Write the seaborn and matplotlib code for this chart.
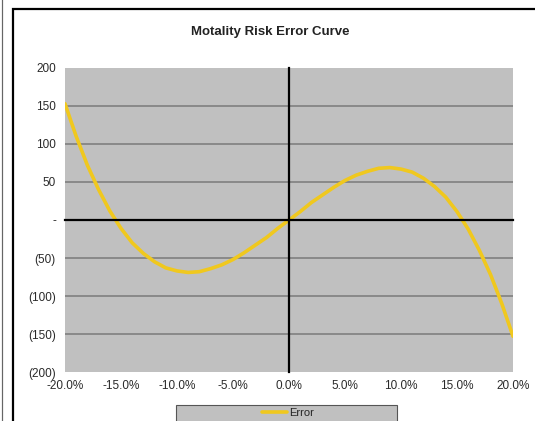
import numpy as np
import pandas as pd
import matplotlib
matplotlib.use('Agg')
import matplotlib.pyplot as plt
from matplotlib.patches import Rectangle
import seaborn as sns

# Values (x in %, error value)
x_pct = [-20, -19, -18, -17, -16, -15, -14, -13, -12, -11, -10,
         -9, -8, -7, -6, -5, -4, -3, -2, -1, 0,
         1, 2, 3, 4, 5, 6, 7, 8, 9, 10,
         11, 12, 13, 14, 15, 16, 17, 18, 19, 20]
error = [153, 110, 72, 40, 12, -11, -30, -44, -55, -63, -67,
         -69, -68, -64, -59, -52, -43, -33, -23, -11, 0,
         11, 23, 33, 43, 52, 59, 64, 68, 69, 67,
         63, 55, 44, 30, 11, -12, -40, -72, -110, -153]

x_ticks = [-20, -15, -10, -5, 0, 5, 10, 15, 20]
y_ticks = [-200, -150, -100, -50, 0, 50, 100, 150, 200]
title = 'Motality Risk Error Curve'
series_name = 'Error'

sns.set_style('white')
plt.rcParams['font.family'] = ['Liberation Sans', 'DejaVu Sans']

df = pd.DataFrame({'x': x_pct, 'Error': error})

fig = plt.figure(figsize=(5.35, 4.21), dpi=100)
ax_pos = [65 / 535, 1 - 372 / 421, 448 / 535, 304 / 421]
ax = fig.add_axes(ax_pos)
ax.set_facecolor('#c0c0c0')

# gridlines (not at the plot edges)
for v in y_ticks[1:-1]:
    if v != 0:
        ax.axhline(v, color='#7a7a7a', lw=1.1, zorder=1)

sns.lineplot(data=df, x='x', y='Error', ax=ax, color='#f0c81e', lw=2.6,
             label=series_name, zorder=5, legend=False)

ax.set_xlim(-20, 20)
ax.set_ylim(-200, 200)
ax.set_xticks(x_ticks)
ax.set_yticks(y_ticks)
ax.set_xticklabels([f'{v:.1f}%' for v in x_ticks])


def fmt_y(v):
    if v == 0:
        return '-'
    if v < 0:
        return f'({-v})'
    return f'{v}'


ax.set_yticklabels([fmt_y(v) for v in y_ticks])
ax.tick_params(axis='both', length=0, labelsize=8.5, colors='#2a2a2a')
ax.tick_params(axis='y', pad=6.5)
ax.tick_params(axis='x', pad=5.5)
ax.set_xlabel('')
ax.set_ylabel('')
for s in ax.spines.values():
    s.set_visible(False)

# axes crossing at zero
ax2 = fig.add_axes(ax_pos, sharex=ax, sharey=ax)
ax2.patch.set_visible(False)
for side in ['top', 'right']:
    ax2.spines[side].set_visible(False)
ax2.spines['left'].set_position(('data', 0))
ax2.spines['bottom'].set_position(('data', 0))
for side in ['left', 'bottom']:
    ax2.spines[side].set_linewidth(1.6)
    ax2.spines[side].set_color('black')
ax2.tick_params(axis='both', direction='out', length=2.5, width=1.2,
                labelleft=False, labelbottom=False, color='black')
ax2.set_zorder(ax.get_zorder() + 1)

fig.text(0.505, 1 - 32 / 421, title, ha='center', va='center',
         fontsize=9.5, fontweight='bold', color='#222222')

# outer chart border and left edge line
fig.patches.append(Rectangle((13 / 535, -0.05), 1.0, 0.05 + 1 - 9 / 421,
                             transform=fig.transFigure, fill=False,
                             ec='black', lw=1.6))
fig.patches.append(Rectangle((2 / 535, -0.05), 0, 1.1,
                             transform=fig.transFigure, fill=False,
                             ec='#666666', lw=0.8))

# legend box
fig.patches.append(Rectangle((176 / 535, -0.05), 221 / 535, 0.05 + 1 - 405 / 421,
                             transform=fig.transFigure, fc='#c0c0c0',
                             ec='#555555', lw=0.8))
handle = plt.Line2D([], [], color='#f0c81e', lw=2.6)
fig.legend([handle], [series_name], loc='center',
           bbox_to_anchor=(288 / 535, 1 - 413 / 421), frameon=False,
           fontsize=8, handlelength=2.2, handletextpad=0.2)

fig.savefig('out.png', dpi=100)
